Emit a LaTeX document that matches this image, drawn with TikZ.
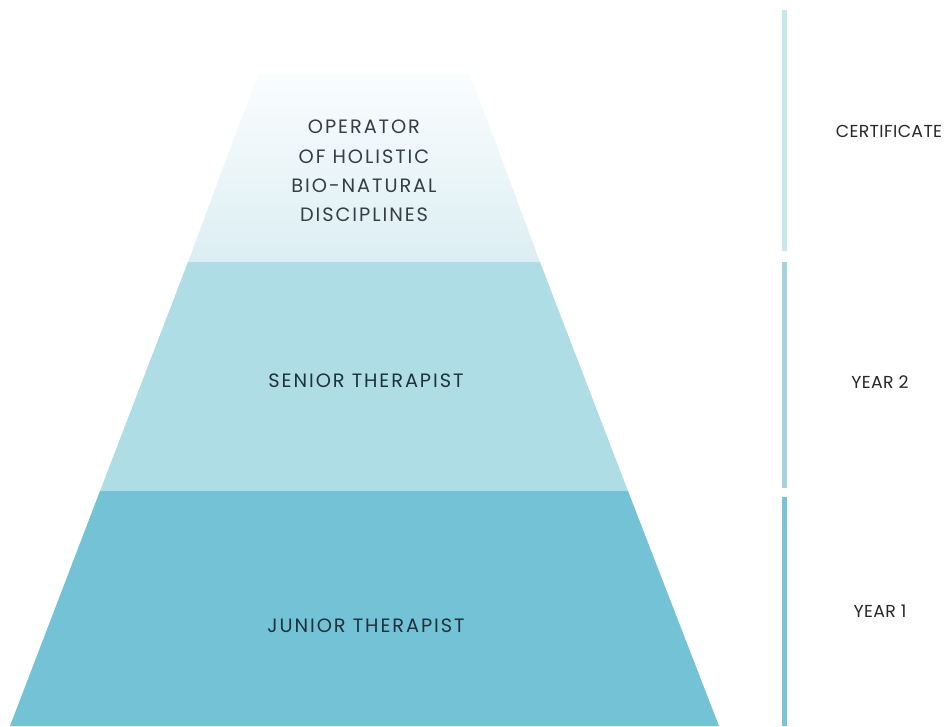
\documentclass[tikz,border=0pt]{standalone}
\usepackage{fontspec}
\setmainfont{Poppins}
\newfontfamily\tierfont[LetterSpace=10]{Poppins}
\newfontfamily\stagefont[LetterSpace=2]{Poppins}
\usepackage{tikz}

\begin{document}
\begin{tikzpicture}[x=0.75pt,y=0.75pt,yscale=-1,xscale=1]
%set diagram left start at 0, and has height of 726
\useasboundingbox (0,0) rectangle (947,726);

%Shape: Trapezoid [id:top tier] 
\shade [top color={rgb, 255:red, 250; green, 253; blue, 254 }, bottom color={rgb, 255:red, 220; green, 238; blue, 243 }]  (258,74) -- (470,74) -- (540,262) -- (188,262) -- cycle ;
%Shape: Trapezoid [id:middle tier] 
\fill [color={rgb, 255:red, 174; green, 221; blue, 230 }]  (188,262) -- (540,262) -- (628,491) -- (100,491) -- cycle ;
%Shape: Trapezoid [id:bottom tier] 
\fill [color={rgb, 255:red, 115; green, 194; blue, 214 }]  (100,491) -- (628,491) -- (719,726) -- (10,726) -- cycle ;

%Shape: Rectangle [id:certificate bar] 
\fill [color={rgb, 255:red, 200; green, 230; blue, 237 }]  (781.5,10) rectangle (786.5,251) ;
%Shape: Rectangle [id:year 2 bar] 
\fill [color={rgb, 255:red, 165; green, 210; blue, 222 }]  (781.5,262) rectangle (786.5,488) ;
%Shape: Rectangle [id:year 1 bar] 
\fill [color={rgb, 255:red, 122; green, 195; blue, 213 }]  (781.5,497) rectangle (786.5,726) ;

% Text Node
\draw (364,171) node [inner sep=0.75pt]  [font=\tierfont\fontsize{14.5}{22}\selectfont, color={rgb, 255:red, 52; green, 62; blue, 70 }, align=center] (operator) {OPERATOR\\OF HOLISTIC\\BIO-NATURAL\\DISCIPLINES};
% Text Node
\draw (366,381) node [inner sep=0.75pt]  [font=\tierfont\fontsize{14.5}{15}\selectfont, color={rgb, 255:red, 30; green, 50; blue, 62 }] (senior) {SENIOR THERAPIST};
% Text Node
\draw (366,626) node [inner sep=0.75pt]  [font=\tierfont\fontsize{14.5}{15}\selectfont, color={rgb, 255:red, 30; green, 50; blue, 62 }] (junior) {JUNIOR THERAPIST};
% Text Node
\draw (889,131) node [inner sep=0.75pt]  [font=\stagefont\fontsize{13}{13}\selectfont, color={rgb, 255:red, 40; green, 40; blue, 40 }] (certificate) {CERTIFICATE};
% Text Node
\draw (880,382) node [inner sep=0.75pt]  [font=\stagefont\fontsize{13}{13}\selectfont, color={rgb, 255:red, 40; green, 40; blue, 40 }] (year2) {YEAR 2};
% Text Node
\draw (880,611) node [inner sep=0.75pt]  [font=\stagefont\fontsize{13}{13}\selectfont, color={rgb, 255:red, 40; green, 40; blue, 40 }] (year1) {YEAR 1};

\end{tikzpicture}
\end{document}
